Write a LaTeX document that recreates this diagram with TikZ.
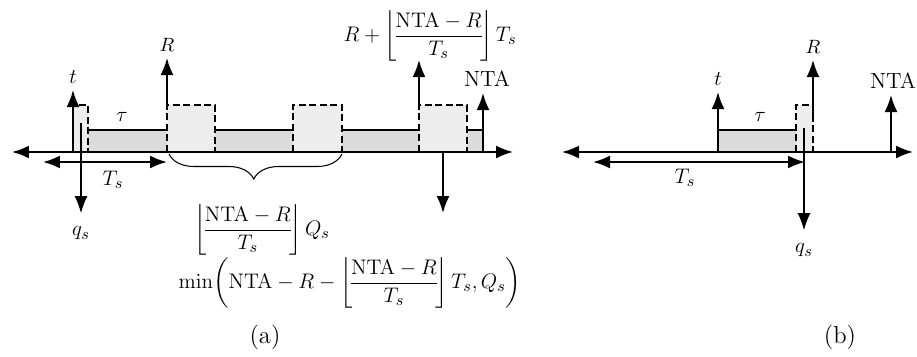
\documentclass[tikz,border=0pt]{standalone}
\usepackage{amsmath}
\usetikzlibrary{arrows.meta, positioning, decorations.pathreplacing}
\tikzset{
    timing/.style={x=0.02cm, y=-0.02cm, >={Latex[length=3.4mm,width=2.6mm]}, line width=1.1pt,
        font=\fontsize{12.5}{15}\selectfont},
    timeaxis/.style={<->},
    pulse/.style={->},
    grant/.style={->, line width=0.6pt},
    slot/.style={fill=gray!28},
    burst/.style={fill=gray!14},
    slottop/.style={line width=0.8pt},
    dashedge/.style={line width=1.1pt, dash pattern=on 4pt off 2pt},
    underbrace/.style={decorate, decoration={brace, amplitude=0.5cm, aspect=0.51}, line width=0.6pt},
    smalllab/.style={font=\fontsize{11}{13}\selectfont},
    caption/.style={font=\fontsize{14}{16}\selectfont},
}
\newcommand{\flr}{\left\lfloor\!\dfrac{\mathrm{NTA}-R}{T_s}\!\right\rfloor}

\begin{document}
\begin{tikzpicture}[timing]
    \useasboundingbox (0,0) rectangle (917,356);

    % ---- (a) ----
    \foreach \a/\b in {88/167, 215/293, 342/419, 467/483}
        \fill[slot] (\a,130) rectangle (\b,152);
    \foreach \a/\b in {73/88, 167/215, 293/342, 419/467}
        \fill[burst] (\a,105) rectangle (\b,152);
    \foreach \a/\b in {88/167, 215/293, 342/419, 467/483}
        \draw[slottop] (\a,130) -- (\b,130);
    \foreach \a/\b in {73/88, 167/215, 293/342, 419/467}
        \draw[dashedge] (\a,152) |- (\b,105) -- (\b,152);

    \coordinate (a-left)  at (12,152);
    \coordinate (a-right) at (513,152);
    \coordinate (a-tsl)   at (43,162);
    \coordinate (a-tsr)   at (167,162);
    \coordinate (a-t0)    at (73,152);
    \coordinate (a-t1)    at (73,90);
    \coordinate (a-r0)    at (167,105);
    \coordinate (a-r1)    at (167,58);
    \coordinate (a-n0)    at (419,105);
    \coordinate (a-n1)    at (419,60);
    \coordinate (a-e0)    at (483,152);
    \coordinate (a-e1)    at (483,93);
    \coordinate (a-q0)    at (81,123);
    \coordinate (a-q1)    at (81,213);
    \coordinate (a-d0)    at (443,152);
    \coordinate (a-d1)    at (443,213);
    \coordinate (a-b0)    at (169,154);
    \coordinate (a-b1)    at (342,154);

    \draw[timeaxis] (a-left) -- (a-right);
    \draw[timeaxis] (a-tsl) -- (a-tsr);
    \draw[pulse] (a-t0) -- (a-t1);
    \draw[pulse] (a-r0) -- (a-r1);
    \draw[pulse] (a-n0) -- (a-n1);
    \draw[pulse] (a-e0) -- (a-e1);
    \draw[pulse] (a-d0) -- (a-d1);
    \draw[grant] (a-q0) -- (a-q1);
    \draw[underbrace] (a-b1) -- (a-b0);

    \node[above=0pt of a-t1]                 (a-tlab)  {$t$};
    \node[above=0pt of a-r1, smalllab]       (a-rlab)  {$R$};
    \node[above=0pt of a-e1, xshift=0.08cm]  (a-elab)  {NTA};
    \node[below=4pt of a-q1]                 (a-qlab)  {$q_s$};
    \node at (122,117)                       (a-tau)   {$\tau$};
    \node at (113,180)                       (a-ts)    {$T_s$};
    \node[inner sep=0pt] at (430,36)         (a-nlab)  {$R+\flr T_s$};
    \node at (262,230)                       (a-floor) {$\flr Q_s$};
    \node at (350,283)                       (a-min)   {$\min\!\left(\mathrm{NTA}-R-\flr T_s, Q_s\right)$};
    \node[caption] at (265,337)              (a-cap)   {(a)};

    % ---- (b) ----
    \fill[slot] (718,130) rectangle (796,152);
    \fill[burst] (796,105) rectangle (813,152);
    \draw[slottop] (718,130) -- (796,130);
    \draw[dashedge] (796,152) |- (813,105) -- (813,152);

    \coordinate (b-left)  at (562,152);
    \coordinate (b-right) at (913,152);
    \coordinate (b-tsl)   at (593,162);
    \coordinate (b-tsr)   at (805,162);
    \coordinate (b-t0)    at (718,152);
    \coordinate (b-t1)    at (718,92);
    \coordinate (b-r0)    at (813,118);
    \coordinate (b-r1)    at (813,60);
    \coordinate (b-e0)    at (891,152);
    \coordinate (b-e1)    at (891,95);
    \coordinate (b-q0)    at (804,128);
    \coordinate (b-q1)    at (804,230);

    \draw[timeaxis] (b-left) -- (b-right);
    \draw[timeaxis] (b-tsl) -- (b-tsr);
    \draw[pulse] (b-t0) -- (b-t1);
    \draw[pulse] (b-r0) -- (b-r1);
    \draw[pulse] (b-e0) -- (b-e1);
    \draw[grant] (b-q0) -- (b-q1);

    \node[above=0pt of b-t1]                 (b-tlab)  {$t$};
    \node[above=0pt of b-r1, smalllab]       (b-rlab)  {$R$};
    \node[above=0pt of b-e1, xshift=0.04cm]  (b-elab)  {NTA};
    \node[below=4pt of b-q1]                 (b-qlab)  {$q_s$};
    \node at (760,117)                       (b-tau)   {$\tau$};
    \node at (685,178)                       (b-ts)    {$T_s$};
    \node[caption] at (840,337)              (b-cap)   {(b)};
\end{tikzpicture}
\end{document}
